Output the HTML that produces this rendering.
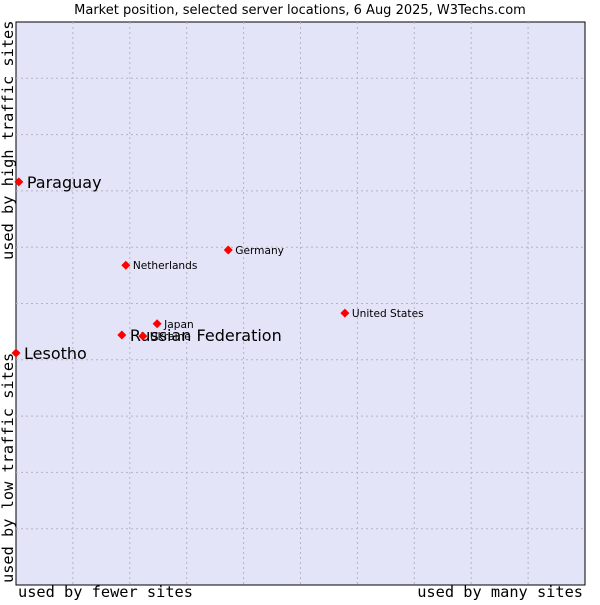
<!DOCTYPE html>
<html><head><meta charset="utf-8"><style>
body{margin:0;background:#fff;width:600px;height:600px;overflow:hidden}
svg text{font-family:"DejaVu Sans","Liberation Sans",sans-serif}
.mono{font-family:"DejaVu Sans Mono","Liberation Mono",monospace}
</style></head><body>
<svg id="chart" width="600" height="600">
<text x="300" y="14" text-anchor="middle" font-size="13" fill="#000">Market position, selected server locations, 6 Aug 2025, W3Techs.com</text>
<rect x="16" y="22" width="569" height="563" fill="#e3e4f8" stroke="#000" stroke-width="1"/>
<g id="grid"></g>
<g id="marks"></g>
<text class="mono" x="18" y="597" font-size="15.3">used by fewer sites</text>
<text class="mono" x="583" y="597" font-size="15.3" text-anchor="end">used by many sites</text>
<text class="mono" transform="translate(13,583) rotate(-90)" font-size="15.3">used by low traffic sites</text>
<text class="mono" transform="translate(13,260) rotate(-90)" font-size="15.3">used by high traffic sites</text>
</svg>
<script>
const countries=["Paraguay","Netherlands","Germany","United States","Japan","Russian Federation","Ukraine","Lesotho"];
const xValues=[0.5,19.3,37.3,57.8,24.8,18.6,22.3,0];
const yValues=[71.6,56.8,59.5,48.3,46.4,44.4,44.2,41.2];
const bigLabel=[true,false,false,false,false,true,false,true];
const L=16,T=22,W=569,H=563;
const sx=v=>L+v/100*W, sy=v=>T+H-v/100*H;
const ns="http://www.w3.org/2000/svg";
const g=document.getElementById('grid'), m=document.getElementById('marks');
for(let i=1;i<10;i++){
  const vx=document.createElementNS(ns,'line');
  vx.setAttribute('x1',sx(i*10));vx.setAttribute('x2',sx(i*10));vx.setAttribute('y1',T);vx.setAttribute('y2',T+H);
  vx.setAttribute('stroke','#b4b4c0');vx.setAttribute('stroke-dasharray','2,3');
  
  
  g.appendChild(vx);
  const hz=document.createElementNS(ns,'line');
  hz.setAttribute('y1',sy(i*10));hz.setAttribute('y2',sy(i*10));hz.setAttribute('x1',L);hz.setAttribute('x2',L+W);
  hz.setAttribute('stroke','#b4b4c0');hz.setAttribute('stroke-dasharray','2,3');
  
  
  g.appendChild(hz);
}
countries.forEach((c,i)=>{
  const x=sx(xValues[i]),y=sy(yValues[i]);
  const p=document.createElementNS(ns,'path');
  p.setAttribute('d',`M${x} ${y-4.5}L${x+4.5} ${y}L${x} ${y+4.5}L${x-4.5} ${y}Z`);
  p.setAttribute('fill','#ff0000');
  
  
  m.appendChild(p);
  const t=document.createElementNS(ns,'text');
  const big=bigLabel[i];
  t.setAttribute('x',x+(big?8:7));t.setAttribute('y',y+(big?6:4));
  t.setAttribute('font-size',big?16:10.6);
  t.textContent=c;
  
  
  m.appendChild(t);
});
</script>
</body></html>
